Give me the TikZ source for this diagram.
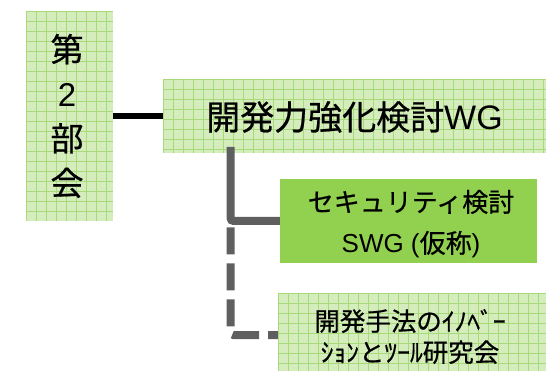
\documentclass[tikz,border=0pt]{standalone}
\usepackage{fontspec}
\setmainfont[FakeBold=0.6]{Noto Sans CJK JP}
\newfontfamily\lat{Liberation Sans}
\definecolor{gfill}{HTML}{D5EDBD}
\definecolor{gline}{HTML}{A9DA7A}
\definecolor{swgfill}{HTML}{92D050}
\definecolor{linegray}{HTML}{5F5F5F}
\tikzset{
  gridbox/.style={rectangle, fill=gfill, inner sep=0pt,
    path picture={
      \foreach \i in {0,...,40} {
        \draw[gline, line width=0.8pt] ([xshift=\i*10pt]path picture bounding box.north west) -- ([xshift=\i*10pt]path picture bounding box.south west);
        \draw[gline, line width=0.8pt] ([yshift=-\i*10pt]path picture bounding box.north west) -- ([yshift=-\i*10pt]path picture bounding box.north east);
      }
    }},
  solidbox/.style={rectangle, fill=swgfill, inner sep=0pt},
  lbl/.style={text=black, align=center, inner sep=0pt},
  blackconn/.style={draw=black, line width=6pt},
  grayconn/.style={draw=linegray, line width=8pt, rounded corners=3pt},
  dashconn/.style={draw=linegray, line width=8pt, rounded corners=3pt, dash pattern=on 27pt off 9pt, dash phase=-6.3pt},
}
\begin{document}
\begin{tikzpicture}[x=1pt,y=-1pt]
\useasboundingbox (0,0) rectangle (546,371);
\node[gridbox, minimum width=87pt, minimum height=210pt] (bukai) at (69.5,116) {};
\node[lbl, font=\fontsize{33}{44.5}\selectfont] (bukaiText) at (67,116) {第\\{\lat 2}\\部\\会};
\node[gridbox, minimum width=383pt, minimum height=74pt] (wg) at (354.5,116) {};
\node[lbl, font=\fontsize{34}{40}\selectfont] (wgText) at (354.5,117) {開発力強化検討{\lat WG}};
\node[solidbox, minimum width=257pt, minimum height=84pt] (swg) at (408.5,221) {};
\node[lbl, font=\fontsize{26}{41}\selectfont] (swgText) at (411,224) {セキュリティ検討\\{\lat SWG (}仮称{\lat )}};
\node[gridbox, minimum width=268pt, minimum height=84pt] (ken) at (412,335) {};
\node[lbl, font=\fontsize{25.5}{31}\selectfont] (kenText) at (410,336.5) {開発手法のｲﾉﾍﾞｰ\\ｼｮﾝとﾂｰﾙ研究会};
\coordinate (branch) at (230.5,147);
\coordinate (split) at (230.5,221);
\draw[blackconn] (bukai.east) -- (wg.west);
\draw[dashconn] (split) |- (ken.west);
\draw[grayconn] (branch) |- (swg.west);
\end{tikzpicture}
\end{document}
